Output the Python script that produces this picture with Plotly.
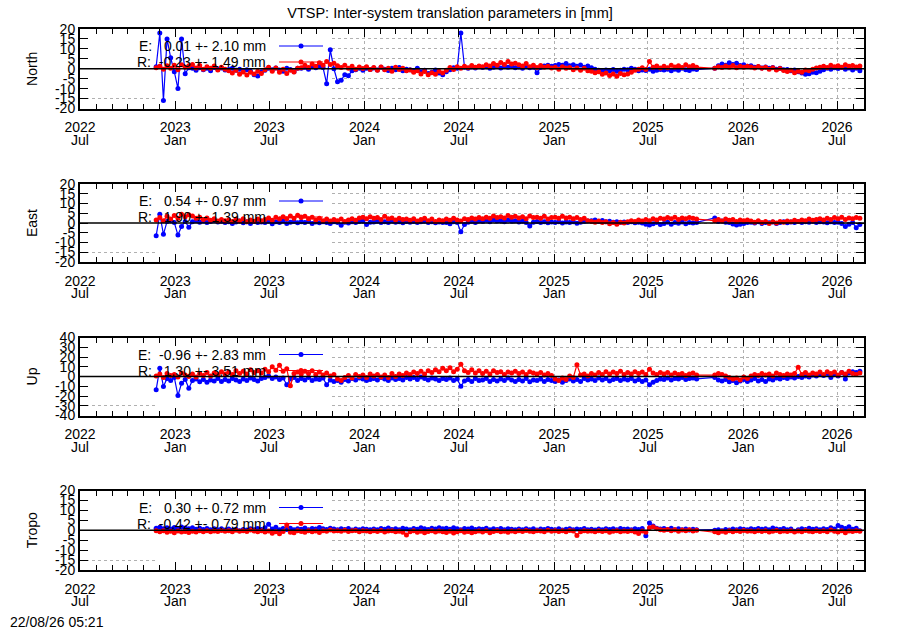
import plotly.graph_objects as go
import pandas as pd

# weekly samples, data gap Oct-Nov 2025
dates = pd.date_range("2022-11-25", periods=150, freq="7D").append(
    pd.date_range("2025-11-07", periods=41, freq="7D"))

north_e = [
    1.0, 18.0, -16.0, 15.0, 5.5, -1.5, -10.0, 15.0, -2.5, 0.5,
    0.3, -0.8, 0.5, -0.5, 0.2, -1.0, 0.6, -0.3, 0.4, -0.6,
    -0.4, 0.2, -0.8, -0.3, -1.0, -0.5, -1.2, -3.0, -3.6, -1.5,
    -0.8, 0.2, -0.5, 0.4, -0.6, -1.2, 0.3, -0.4, -1.5, 0.2,
    0.3, 0.8, -0.2, 1.0, 0.5, 1.2, 0.6, -7.5, 9.5, 0.0,
    -6.5, -5.8, -3.0, -3.5, -1.0, -0.5, 0.3, -0.8, 0.2, -0.4,
    0.4, -0.6, 0.8, -0.2, -0.9, 0.3, -0.5, 0.6, -1.0, -0.3,
    -0.5, -1.2, 0.2, -1.5, -0.8, -2.4, -1.8, -0.6, -2.2, -3.0,
    -1.5, -0.5, 0.5, 0.3, 18.0, 0.8, 0.2, 0.9, 0.4, 1.0,
    0.6, 1.0, 0.2, 0.8, 1.3, 0.4, 1.1, 0.7, 1.5, 0.5,
    0.9, 0.3, 1.2, 0.5, 0.8, -2.0, 0.6, 1.4, 1.8, 1.2,
    1.6, 2.2, 1.8, 2.6, 1.5, 2.0, 1.2, 1.9, 0.8, 1.4,
    0.5, -0.3, -0.8, -1.2, -0.6, -1.0, -0.4, -1.3, -0.7, -0.2,
    -0.5, 0.3, -0.2, -1.0, -0.6, -0.9, -0.3, -1.2, -0.8, -0.4,
    -0.6, -0.2, -1.0, -0.3, -0.8, 0.2, -0.5, -0.9, -0.1, -0.4,
    0.3, 1.5, 2.4, 1.8, 3.0, 2.2, 2.8, 1.6, 2.0, 1.2,
    1.5, 0.8, 1.0, 0.4, 0.9, 0.2, 0.6, -0.2, 0.3, -0.5,
    -0.4, -1.0, -0.6, -1.5, -2.2, -2.8, -2.5, -1.8, -2.0, -1.2,
    -0.5, 0.2, -0.3, 0.5, 0.1, 0.6, -0.2, 0.4, -0.6, 0.3,
    -1.0,
]
north_r = [
    0.5, 1.2, -0.3, 1.5, 0.2, 1.8, -0.5, 2.0, 0.8, 1.5,
    2.2, 0.4, 1.6, -0.2, 1.0, 0.3, 1.4, -0.6, 0.8, -0.3,
    -1.0, -2.2, -0.8, -2.8, -1.6, -3.2, -1.8, -2.6, -1.2, -2.4,
    -0.5, 0.8, -1.2, 0.4, -1.8, -0.3, -2.4, -0.8, -1.6, 0.2,
    0.5, 1.8, 0.6, 2.4, 1.2, 3.0, 1.8, 3.6, 2.2, 2.8,
    1.5, 0.6, 1.8, 0.2, 1.2, -0.3, 0.9, 0.1, 1.0, -0.4,
    0.6, -0.8, 0.9, -0.5, 0.3, -1.2, 0.7, -0.4, 0.2, -1.0,
    -0.6, -1.8, -1.0, -2.6, -1.4, -3.0, -2.0, -2.8, -1.2, -2.2,
    -0.8, 0.6, -0.4, 1.0, 0.2, 1.2, 0.5, 1.6, 0.8, 1.4,
    1.0, 2.0, 1.4, 2.6, 1.8, 3.2, 2.2, 3.6, 2.4, 2.8,
    2.0, 1.4, 2.6, 1.0, 1.8, 0.6, 1.6, 0.8, 1.2, 0.4,
    0.8, -0.2, 1.0, 0.2, 0.6, -0.5, 0.4, -0.8, 0.2, -1.0,
    -1.2, -2.0, -1.5, -2.8, -2.2, -3.4, -2.6, -3.8, -2.4, -3.0,
    -2.6, -1.8, -0.8, -0.2, 0.5, -0.4, 3.6, 0.8, 1.4, 0.4,
    1.2, 0.5, 1.8, 0.9, 1.5, 0.6, 2.0, 1.0, 1.6, 0.8,
    0.2, 1.0, 0.6, 1.4, 0.8, 1.6, 0.5, 1.2, 0.7, 1.3,
    0.9, 0.4, 1.1, 0.2, 0.7, -0.3, 0.5, -0.6, 0.1, -0.9,
    -1.4, -0.8, -2.0, -1.2, -1.8, -0.6, -1.0, -0.2, 0.4, 0.8,
    1.2, 0.6, 1.8, 1.0, 1.5, 0.8, 2.0, 1.2, 1.6, 0.9,
    1.4,
]
east_e = [
    -6.5, 4.5, -5.8, 0.8, 1.2, 0.2, -6.2, -1.8, 0.8, -2.2,
    0.6, 1.2, 0.4, 1.0, 0.2, 0.8, 1.3, 0.5, 0.9, 0.3,
    0.7, -0.2, 0.5, 1.0, 0.1, 0.6, -0.3, 0.8, 0.2, 0.5,
    0.3, 0.9, -0.4, 0.6, 0.2, 1.0, -0.2, 0.4, 0.8, 0.1,
    0.6, 0.2, 0.9, -0.3, 0.5, 0.1, 0.7, 0.3, -0.2, 0.6,
    0.2, -1.2, 0.4, 0.0, 0.6, 0.3, 0.8, 1.0, -0.8, 0.4,
    0.5, 0.9, 0.2, 0.7, 0.3, 1.0, 0.4, 0.6, 0.1, 0.8,
    0.4, 0.8, 0.2, 0.6, 0.9, 0.3, 0.7, 0.1, 0.5, 0.2,
    0.3, -0.4, 0.6, 0.2, -4.5, -0.8, 0.4, 0.9, 0.3, 1.0,
    0.8, 1.4, 0.6, 1.6, 1.0, 1.2, 0.7, 1.5, 0.9, 1.1,
    0.5, 0.9, 0.3, -1.6, 0.4, 0.8, 0.2, 0.6, 0.1, 0.5,
    0.3, 0.7, 0.0, 0.5, 0.2, 0.6, -0.1, 0.4, 0.8, 1.0,
    1.2, 1.5, 0.8, 1.3, 0.6, 0.9, 0.4, 0.7, 0.2, 0.5,
    0.3, 0.6, 0.1, 0.4, 0.0, -0.6, -1.0, -0.4, 0.2, -0.8,
    -0.2, 0.4, -0.6, 0.3, -0.1, 0.5, -0.4, 0.2, 0.0, 0.3,
    2.6, 0.8, 1.0, 0.4, 0.2, -0.5, -1.0, -0.6, -0.2, 0.3,
    0.4, 0.0, 0.6, -0.2, 0.3, 0.1, 0.5, -0.3, 0.2, 0.6,
    0.1, 0.5, 0.3, 0.8, 0.2, 0.6, 0.4, 0.9, 0.3, 0.7,
    0.5, 0.1, 0.6, 0.2, 0.4, -0.3, -1.8, -0.6, 0.2, -2.4,
    -0.8,
]
east_r = [
    1.5, 2.8, 1.2, 3.5, 2.0, 3.8, 2.4, 4.5, 3.2, 4.2,
    3.6, 2.4, 3.0, 1.8, 2.6, 1.4, 2.2, 1.0, 1.8, 1.2,
    1.6, 0.8, 1.9, 1.0, 2.2, 0.6, 1.5, 0.9, 2.0, 1.2,
    1.8, 2.6, 1.4, 2.9, 2.0, 3.2, 2.2, 3.6, 2.5, 4.0,
    2.8, 3.4, 2.2, 3.0, 1.6, 2.4, 1.2, 2.0, 1.0, 1.8,
    1.2, 2.0, 0.8, 1.6, 2.2, 1.4, 2.6, 3.0, 2.2, 3.2,
    2.4, 2.8, 1.8, 3.4, 2.2, 2.6, 1.6, 2.4, 1.8, 2.0,
    1.4, 2.2, 1.0, 1.8, 2.4, 1.2, 2.0, 0.8, 1.6, 1.2,
    2.0, 1.4, 2.4, 1.6, 1.0, 2.2, 1.8, 2.6, 2.0, 2.8,
    2.2, 3.0, 2.4, 3.6, 2.8, 3.2, 2.6, 3.8, 3.0, 3.4,
    2.6, 3.2, 2.2, 3.6, 2.8, 3.0, 2.4, 3.4, 2.0, 2.8,
    3.0, 2.4, 3.4, 2.6, 3.0, 2.2, 2.8, 1.8, 2.4, 1.2,
    0.8, 0.4, 1.0, 0.2, 0.6, -0.4, 0.2, -0.6, 0.4, 0.0,
    0.6, 1.2, 0.8, 1.6, 1.0, 1.8, 1.2, 2.2, 1.6, 2.4,
    2.0, 2.8, 2.2, 3.0, 1.8, 2.6, 2.2, 2.8, 2.4, 2.0,
    1.2, 1.8, 1.0, 2.0, 1.4, 1.8, 0.8, 1.6, 1.2, 1.6,
    1.0, 0.4, 1.2, 0.2, 0.8, -0.2, 0.6, 0.0, 0.8, 0.4,
    1.0, 0.6, 1.4, 0.8, 1.6, 1.2, 2.0, 1.4, 1.8, 2.2,
    1.6, 2.4, 1.8, 2.8, 2.2, 3.0, 1.8, 2.6, 2.2, 2.8,
    2.4,
]
up_e = [
    -13.5, 8.5, -10.2, -2.0, -4.0, -1.0, -19.5, -7.0, -3.0, -12.0,
    -4.0, -2.5, -5.5, -3.0, -6.0, -3.5, -4.5, -2.0, -5.0, -3.0,
    -4.5, -2.0, -3.5, -5.0, -2.5, -4.0, -1.5, -3.0, -4.5, -2.0,
    -1.0, 0.5, -2.0, -0.5, -3.0, -1.5, -8.5, -2.5, -1.0, -4.0,
    -2.0, -3.5, -1.0, -4.0, -2.5, -3.0, -1.5, -8.5, -3.5, -5.0,
    -4.0, -6.0, -3.0, -4.5, -2.0, -3.5, -1.5, -2.5, -4.0, -3.0,
    -2.0, -3.5, -1.0, -2.5, -4.0, -1.5, -3.0, -2.0, -3.5, -1.0,
    -2.5, -1.0, -3.0, -0.5, -2.0, -3.5, -1.5, -2.5, -4.0, -2.0,
    -3.0, -1.5, -4.0, -2.5, -10.0, -4.5, -3.0, -5.0, -2.0, -4.0,
    -3.5, -2.0, -5.0, -3.0, -4.5, -2.5, -4.0, -1.5, -3.5, -5.0,
    -3.0, -4.5, -2.0, -5.5, -3.5, -4.0, -2.5, -5.0, -3.0, -4.0,
    -5.0, -3.5, -6.0, -4.0, -2.5, -4.5, -3.0, -5.0, -2.0, -3.5,
    -2.5, -4.0, -1.5, -3.5, -2.0, -4.5, -3.0, -2.0, -4.0, -2.5,
    -3.5, -2.0, -4.5, -3.0, -5.0, -3.5, -8.5, -6.0, -4.0, -2.5,
    -3.0, -1.5, -3.5, -2.0, -2.5, -1.0, -3.0, -2.0, -1.5, -2.5,
    -1.0, -3.5, -4.5, -3.0, -5.5, -4.0, -6.5, -4.5, -3.0, -5.0,
    -3.5, -2.0, -4.5, -3.0, -5.0, -2.5, -3.5, -1.5, -2.5, -1.0,
    -2.0, -0.5, -1.5, 0.0, -1.0, 0.5, -0.5, 1.5, 0.5, 2.0,
    1.0, 3.0, -1.0, 2.5, 0.5, 4.0, -2.5, 3.5, 5.0, 4.0,
    5.5,
]
up_r = [
    0.5, 2.5, -1.0, 3.0, 1.0, 2.0, -0.5, 3.5, 1.5, 0.0,
    2.5, -0.5, 3.0, 1.0, 4.0, 0.5, 3.5, 2.0, 5.0, 2.5,
    4.5, 2.0, 6.0, 3.0, 5.5, 2.5, 7.0, 4.0, 6.0, 3.5,
    7.5, 5.0, 10.0, 6.5, 11.5, 5.5, 8.0, -9.5, 3.0, 4.5,
    2.5, 5.5, 3.0, 6.0, 2.0, 4.5, 1.5, 3.5, 0.5, 2.0,
    -2.5, -4.0, -1.0, 1.0, -1.5, 2.0, 0.0, 1.5, -1.0, 2.5,
    0.5, 2.0, -0.5, 1.5, -1.0, 3.0, 0.0, 2.5, 1.0, 3.5,
    2.0, 4.5, 3.0, 5.5, 2.5, 6.0, 4.0, 7.0, 5.0, 8.5,
    6.0, 9.0, 5.0, 7.5, 12.5, 6.0, 4.0, 7.0, 3.5, 6.0,
    3.0, 5.5, 2.5, 6.0, 4.0, 5.0, 2.0, 4.5, 3.5, 5.5,
    3.0, 4.5, 2.0, 5.0, 3.5, 2.5, 4.0, 1.5, 3.0, 1.0,
    -2.5, -4.0, -1.5, -3.0, 0.5, -1.0, 12.0, 1.5, 2.5, 0.5,
    3.0, 1.5, 4.0, 2.0, 5.0, 2.5, 4.5, 3.0, 5.5, 2.0,
    4.0, 2.5, 5.0, 3.0, 4.5, 2.0, 7.5, 3.5, 2.0, 4.0,
    2.5, 4.0, 1.5, 3.5, 2.0, 3.0, 1.0, 2.5, 3.5, 1.5,
    1.5, 3.0, 2.0, 0.5, -1.0, -2.5, -1.5, -3.5, -0.5, -2.0,
    0.5, 2.0, 1.0, 3.0, 1.5, 2.5, 0.5, 3.5, 2.0, 1.0,
    2.5, 1.5, 3.0, 9.5, 2.0, 4.0, 1.5, 3.5, 2.5, 4.5,
    2.0, 5.0, 3.0, 4.5, 1.5, 4.0, 2.5, 5.5, 3.0, 2.0,
    3.5,
]
tropo_e = [
    1.0, 1.5, 0.8, 1.2, 0.6, 1.4, 0.9, 1.6, 1.1, 0.7,
    1.3, 0.5, 1.0, 0.4, 0.9, 0.2, 0.8, 0.3, 0.7, 0.1,
    0.6, 0.0, 0.5, -0.2, 0.4, 0.1, 0.7, 0.2, 0.9, 0.4,
    1.2, 3.0, 0.6, 1.5, 0.3, 0.9, 0.4, 1.0, 0.2, 0.8,
    0.5, 1.1, 0.3, 0.9, 0.6, 1.4, 0.8, 0.4, 1.0, 0.6,
    0.2, 0.7, 0.4, 0.9, 0.1, 0.6, 0.3, 0.8, 0.5, 0.2,
    0.6, 0.3, 0.9, 0.5, 1.1, 0.4, 0.8, 0.2, 1.0, 0.6,
    0.3, 0.9, 0.5, 1.2, 0.7, 0.4, 1.0, 0.6, 1.3, 0.8,
    1.0, 0.5, 1.2, 0.7, 0.3, 0.9, 0.6, 1.1, 0.4, 0.8,
    0.5, 1.0, 0.3, 0.8, 0.4, 0.9, 0.2, 0.7, 0.5, 0.3,
    0.6, 0.2, 0.7, 0.3, 0.8, 0.1, 0.6, 0.4, 0.9, 0.5,
    0.3, 0.7, 0.1, 0.5, 0.8, 0.2, 0.6, 0.4, 0.9, 0.3,
    0.5, 0.1, 0.6, 0.3, 0.8, 0.4, 0.7, 0.2, 0.9, 0.5,
    0.6, 0.3, 0.8, 0.4, 0.9, -2.8, 3.6, 2.2, 1.0, 0.6,
    0.9, 0.4, 1.0, 0.3, 0.7, 0.2, 0.6, 0.1, 0.5, 0.2,
    0.0, 0.3, -0.2, 0.4, 0.1, 0.6, 0.2, 0.8, 0.5, 0.3,
    0.7, 0.4, 0.9, 0.5, 0.8, 0.3, 1.1, 0.6, 0.4, 0.9,
    0.2, 0.6, -0.5, 0.3, 0.8, 0.4, 1.0, 0.5, 0.7, 0.2,
    0.8, 0.4, 1.2, 0.6, 2.4, 1.5, 0.9, 1.8, 0.5, 1.0,
    -0.3,
]
tropo_r = [
    -0.3, -0.8, -0.2, -1.0, -0.5, -1.2, -0.4, -0.9, -0.6, -1.1,
    -0.5, -0.9, -0.3, -0.7, -0.2, -0.8, -0.4, -0.6, -0.1, -0.5,
    -0.3, -0.7, 0.0, -0.5, -0.2, -0.6, 0.1, -0.4, -0.8, -0.2,
    -0.9, -0.4, -1.5, -0.7, -1.8, -0.6, 2.6, -1.0, -1.2, -0.3,
    -0.6, -1.0, -0.2, -0.8, -0.4, -1.1, -0.3, -0.5, 0.1, -0.4,
    -0.2, -0.5, 0.0, -0.6, -0.3, -0.1, -0.7, -0.2, -0.4, -0.8,
    -0.3, -0.6, -0.1, -0.9, -0.4, -0.2, -0.7, -0.5, -1.0, -2.4,
    -0.8, -0.3, -1.0, -0.5, -1.2, -0.6, -0.2, -0.9, -0.4, -0.7,
    -1.1, -0.5, -1.4, -0.8, -0.3, -1.0, -0.6, -1.3, -0.7, -0.4,
    -0.9, -0.3, -1.2, -0.6, -0.2, -0.8, -0.5, -1.0, -0.4, -0.7,
    -0.3, -0.6, -0.1, -0.5, -0.8, -0.2, -0.4, -0.7, 0.0, -0.5,
    -0.2, -0.6, -0.3, -0.8, -0.1, -0.4, -2.6, -0.7, -0.3, -0.5,
    -0.4, -0.8, -0.2, -0.6, -0.3, -1.0, -0.5, -0.2, -0.7, -0.4,
    -0.6, -0.2, -0.9, -1.6, -0.4, -1.0, 1.2, 1.8, 0.8, 0.3,
    0.0, 0.4, -0.3, 0.2, -0.5, 0.1, -0.2, 0.3, -0.4, 0.0,
    -0.8, -1.2, -0.5, -1.0, -0.3, -0.7, -0.2, -0.6, -0.1, -0.5,
    -0.4, -0.8, -0.2, -0.6, -0.3, -0.9, -0.5, -0.1, -0.7, -0.4,
    -0.6, -0.2, -0.9, -0.4, -0.7, -0.1, -0.5, -0.8, -0.3, -0.6,
    -0.2, -0.7, 0.1, -0.5, -0.9, -0.3, -1.2, -0.4, -0.6, -0.2,
    -0.5,
]

panel_names = ["North", "East", "Up", "Tropo"]
panel_e = [north_e, east_e, up_e, tropo_e]
panel_r = [north_r, east_r, up_r, tropo_r]
panel_ylim = [20, 20, 40, 20]
panel_dtick = [5, 5, 10, 5]
# (mean, rms) per panel as printed in the key
stats_e = [(0.01, 2.10), (0.54, 0.97), (-0.96, 2.83), (0.30, 0.72)]
stats_r = [(-0.23, 1.49), (1.90, 1.39), (1.30, 3.51), (-0.42, 0.79)]

xtick_vals = ["2022-07-01", "2023-01-01", "2023-07-01", "2024-01-01", "2024-07-01",
              "2025-01-01", "2025-07-01", "2026-01-01", "2026-07-01"]
xtick_years = ["2022", "2023", "2023", "2024", "2024", "2025", "2025", "2026", "2026"]
xtick_months = ["Jul", "Jan", "Jul", "Jan", "Jul", "Jan", "Jul", "Jan", "Jul"]

BLUE = "#0000ff"
RED = "#ff0000"
FONT = "Liberation Sans, Arial, sans-serif"

W, H = 900, 630
ML, MR, MT, MB = 80, 36, 29, 60
PW, PH = W - ML - MR, H - MT - MB
tops = [29, 184, 337.5, 490.5]
bottoms = [108.5, 262, 415.5, 570]


def px(x):
    return (x - ML) / PW


def py(y):
    return (H - MB - y) / PH


def key_text(tag, mean, rms):
    pad = "\u00a0" * (3 if mean >= 0 else 2)
    return f"{tag}:{pad}{mean:.2f} +- {rms:.2f} mm"


fig = go.Figure()
layout = dict(
    width=W, height=H, autosize=False,
    margin=dict(l=ML, r=MR, t=MT, b=MB),
    paper_bgcolor="white", plot_bgcolor="white",
    font=dict(family=FONT, size=14, color="black"),
    showlegend=False,
    title=dict(text="VTSP: Inter-system translation parameters in [mm]",
               x=0.5, xref="container", xanchor="center",
               y=1 - 13 / H, yref="container", yanchor="middle",
               font=dict(size=14.5)),
)
shapes = []
annotations = []

for k in range(4):
    xn = "x" if k == 0 else f"x{k + 1}"
    yn = "y" if k == 0 else f"y{k + 1}"
    xa = "xaxis" if k == 0 else f"xaxis{k + 1}"
    ya = "yaxis" if k == 0 else f"yaxis{k + 1}"
    lim = panel_ylim[k]
    yvals = list(range(-lim, lim + 1, panel_dtick[k]))

    fig.add_trace(go.Scatter(x=dates, y=panel_e[k], xaxis=xn, yaxis=yn,
                             mode="lines+markers", line=dict(color=BLUE, width=1.2),
                             marker=dict(color=BLUE, size=5)))
    fig.add_trace(go.Scatter(x=dates, y=panel_r[k], xaxis=xn, yaxis=yn,
                             mode="lines+markers", line=dict(color=RED, width=1.2),
                             marker=dict(color=RED, size=5)))

    layout[xa] = dict(
        domain=[0, 1], anchor=yn, type="date",
        range=["2022-07-01", "2026-08-22"],
        tickmode="array", tickvals=xtick_vals, ticktext=xtick_years,
        ticks="inside", ticklen=8, tickwidth=1, tickcolor="black",
        ticklabelstandoff=5,
        minor=dict(ticks="inside", ticklen=5, dtick="M1", tick0="2022-07-01",
                   tickcolor="black", showgrid=False),
        showline=True, linecolor="black", linewidth=2, mirror="allticks",
        showgrid=True, gridcolor="#b0b0b0", griddash="dot", gridwidth=1,
        zeroline=False, tickfont=dict(size=14),
    )
    layout[ya] = dict(
        domain=[py(bottoms[k]), py(tops[k])], anchor=xn,
        range=[-lim, lim], tickmode="array", tickvals=yvals,
        ticktext=[str(v) for v in yvals],
        ticks="inside", ticklen=8, tickwidth=1, tickcolor="black",
        showline=True, linecolor="black", linewidth=2, mirror="allticks",
        showgrid=True, gridcolor="#b0b0b0", griddash="dot", gridwidth=1,
        zeroline=False, tickfont=dict(size=14),
        title=dict(text=panel_names[k], standoff=14, font=dict(size=14)),
    )

    # month line under each year label
    for d, m in zip(xtick_vals, xtick_months):
        annotations.append(dict(text=m, xref=xn, yref="paper", x=d, y=py(bottoms[k] + 31),
                                xanchor="center", yanchor="middle", showarrow=False,
                                font=dict(size=14)))

    # opaque key box and blank strip hide the grid on the left
    shapes.append(dict(type="rect", xref=xn, yref=yn, x0="2022-07-01", x1="2023-10-30",
                       y0=-lim * 0.625, y1=lim, fillcolor="white",
                       line=dict(width=0), layer="between"))
    shapes.append(dict(type="rect", xref=xn, yref=yn, x0="2022-11-24", x1="2023-10-30",
                       y0=-lim, y1=lim, fillcolor="white",
                       line=dict(width=0), layer="between"))
    shapes.append(dict(type="line", xref=f"{xn} domain", yref=yn, x0=0, x1=1, y0=0, y1=0,
                       line=dict(color="black", width=1.5), layer="above"))

    keys = [(key_text("E", *stats_e[k]), BLUE), (key_text("R", *stats_r[k]), RED)]
    for j, (txt, col) in enumerate(keys):
        yrow = py(tops[k] + 17 + 16 * j)
        annotations.append(dict(text=txt, xref="paper", yref="paper", x=px(268), y=yrow,
                                xanchor="right", yanchor="middle", showarrow=False,
                                font=dict(size=14)))
        shapes.append(dict(type="line", xref="paper", yref="paper", x0=px(279), x1=px(323),
                           y0=yrow, y1=yrow, line=dict(color=col, width=1)))
        shapes.append(dict(type="circle", xref="paper", yref="paper",
                           xsizemode="pixel", ysizemode="pixel",
                           xanchor=px(301), yanchor=yrow, x0=-2.5, x1=2.5, y0=-2.5, y1=2.5,
                           fillcolor=col, line=dict(width=0)))

annotations.append(dict(text="22/08/26 05:21", xref="paper", yref="paper",
                        x=px(8), y=py(622), xanchor="left", yanchor="middle",
                        showarrow=False, font=dict(size=14)))

layout["shapes"] = shapes
layout["annotations"] = annotations
fig.update_layout(**layout)

fig.write_html("out.html", config={"displayModeBar": False},
               post_script="document.body.style.margin='0';")
